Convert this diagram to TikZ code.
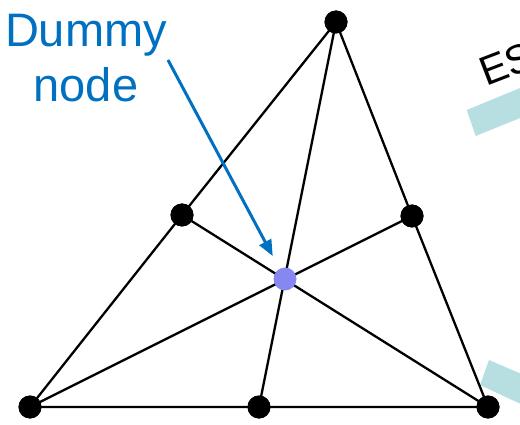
\documentclass[tikz,border=0pt]{standalone}
\usepackage{fontspec}
\setmainfont{Liberation Sans}
\usetikzlibrary{arrows.meta}
\definecolor{dblue}{HTML}{0070C0}
\definecolor{teal1}{HTML}{B7DEE1}
\definecolor{dummyc}{rgb}{0.53,0.53,0.95}
\tikzset{
  vtx/.style={circle,fill=black,inner sep=0pt,minimum size=23pt},
  dvtx/.style={circle,fill=dummyc,inner sep=0pt,minimum size=23pt},
  edge/.style={line width=2.3pt,black},
  lbl/.style={font=\fontsize{47}{55}\selectfont,inner sep=0pt},
  eslbl/.style={font=\fontsize{41}{48}\selectfont,inner sep=0pt}
}
\begin{document}
\begin{tikzpicture}[x=1pt,y=-1pt]
\useasboundingbox (0,0) rectangle (520,425);
\clip (0,0) rectangle (520,425);
% teal bars
\fill[teal1] (466.7,110) -- (475.7,136) -- (525,116) -- (525,86) -- cycle;
\fill[teal1] (489,360) -- (525,375.5) -- (525,406) -- (480,385) -- cycle;
% ES text
\node[eslbl,anchor=base west,rotate=21] (es) at (486,87) {ES};
% nodes
\node[vtx] (t) at (336,22) {};
\node[vtx] (lm) at (182,215) {};
\node[vtx] (rm) at (412,216) {};
\node[vtx] (bl) at (30,407) {};
\node[vtx] (bm) at (259,407) {};
\node[vtx] (br) at (488,407) {};
\coordinate (c) at (285,279);
% edges
\draw[edge] (bl.center) -- (lm.center) -- (t.center) -- (rm.center) -- (br.center) -- (bm.center) -- (bl.center);
\draw[edge] (t.center) -- (bm.center);
\draw[edge] (lm.center) -- (br.center);
\draw[edge] (rm.center) -- (bl.center);
% redraw dots on top
\node[vtx] at (t) {};
\node[vtx] at (lm) {};
\node[vtx] at (rm) {};
\node[vtx] at (bl) {};
\node[vtx] at (bm) {};
\node[vtx] at (br) {};
\node[dvtx] (d) at (c) {};
% label
\node[lbl,text=dblue,align=center,anchor=north] (lab) at (86,14.4) {Dummy\\node};
\coordinate (as) at (168,60);
\draw[dblue,line width=3pt,-{Triangle[length=16pt,width=13pt]},shorten >=26pt] (as) -- (d.center);
\end{tikzpicture}
\end{document}
